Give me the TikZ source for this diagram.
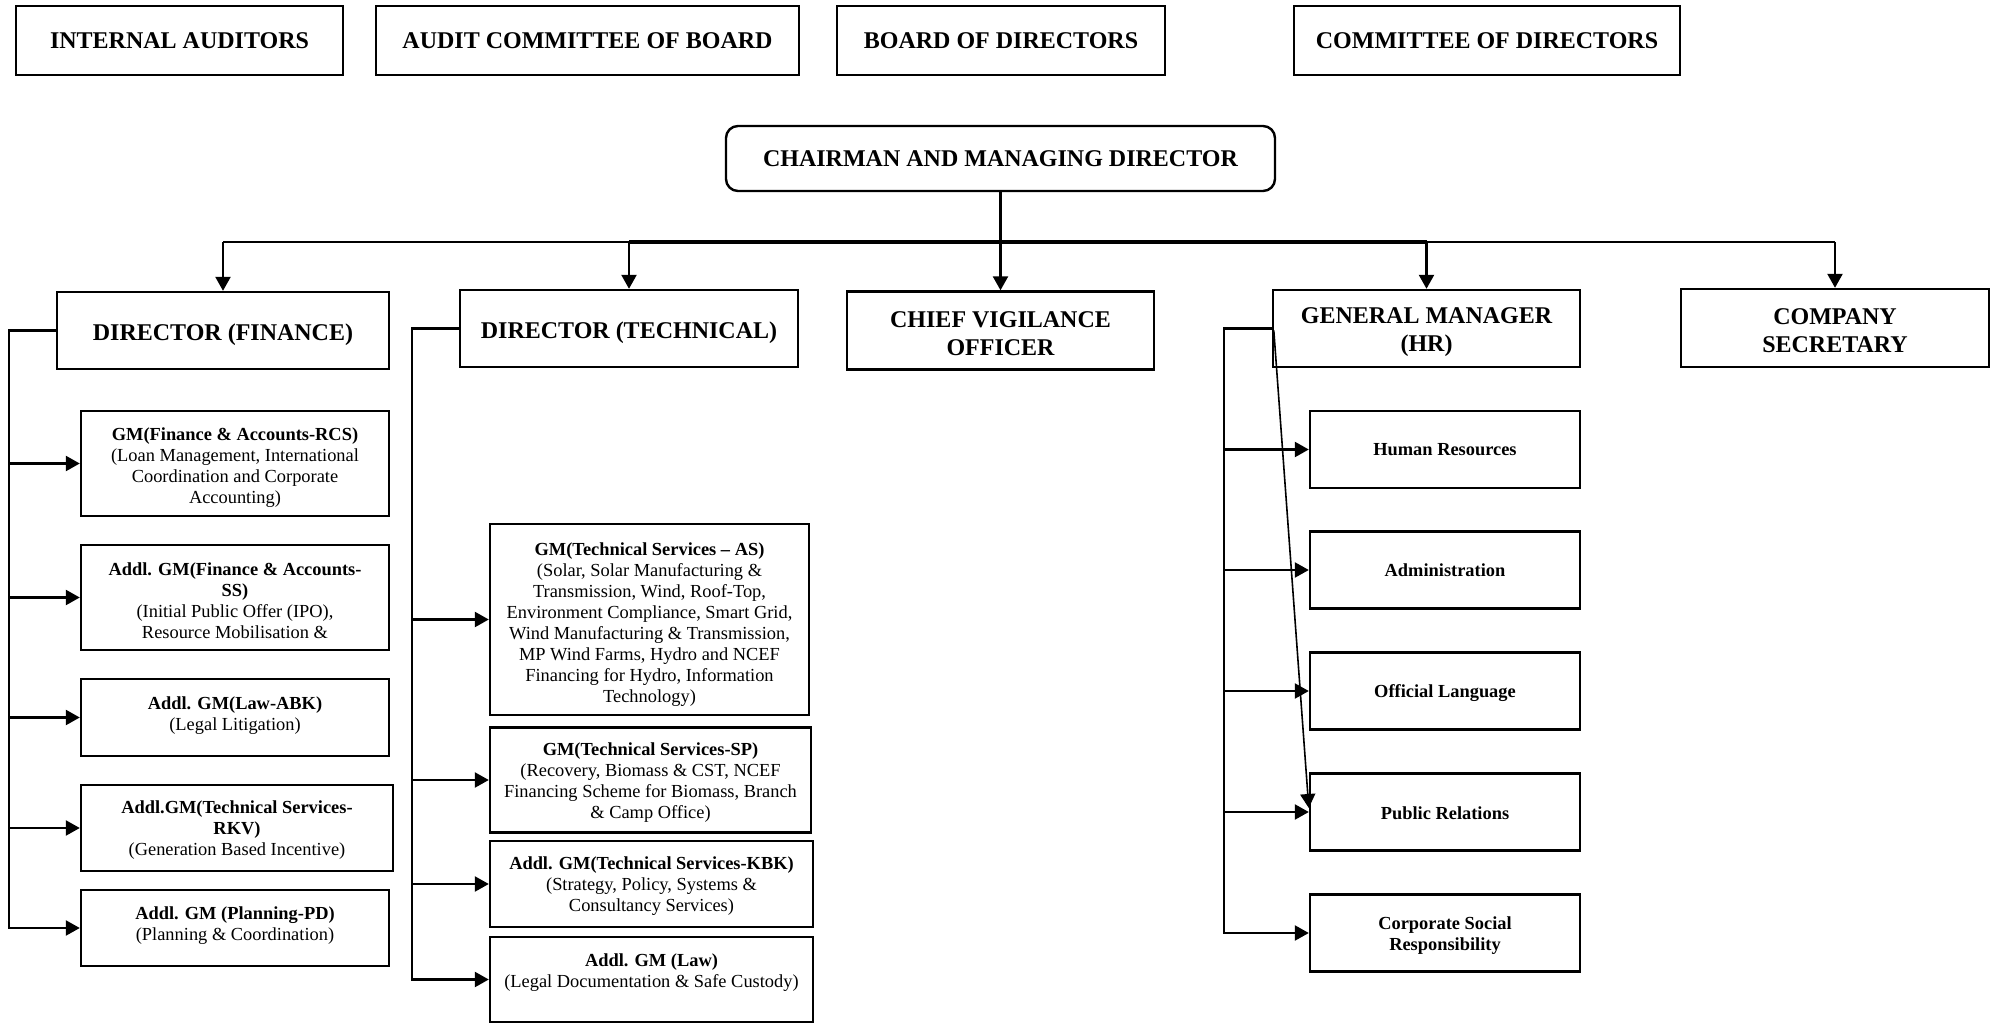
\documentclass[tikz,border=0pt]{standalone}
\usepackage{fontspec}
\setmainfont{Liberation Serif}
\usetikzlibrary{arrows.meta}
\newcommand\tdn[1]{\raisebox{#1pt}{\vphantom{(}}}
\newcommand\tup[1]{\raisebox{-#1pt}{\vphantom{(}}}
\begin{document}
\begin{tikzpicture}[x=0.5pt,y=-0.5pt,
  box/.style={draw, line width=1.2pt, inner sep=0pt, align=center},
  big/.style={box, font=\fontsize{12}{13.9}\selectfont\bfseries},
  small/.style={box, font=\fontsize{9.2}{10.5}\selectfont},
  hrs/.style={box, font=\fontsize{9.2}{10.5}\selectfont\bfseries, minimum width=135pt, minimum height=38.5pt},
  fin/.style={small, minimum width=154pt},
  conn/.style={line width=1.2pt},
  arr/.style={conn, -{Triangle[length=7pt,width=7.5pt]}},
  diag/.style={line width=0.8pt, -{Triangle[length=7pt,width=7.5pt]}},
]
\useasboundingbox (0,0) rectangle (1993,1027);

% top row
\node[big, minimum width=163.5pt, minimum height=34.5pt] (ia) at (179.5,40.5) {INTERNAL AUDITORS};
\node[big, minimum width=211.5pt, minimum height=34.5pt] (ac) at (587.5,40.5) {AUDIT COMMITTEE OF BOARD};
\node[big, minimum width=164pt, minimum height=34.5pt] (bd) at (1001,40.5) {BOARD OF DIRECTORS};
\node[big, minimum width=193pt, minimum height=34.5pt] (cd) at (1487,40.5) {COMMITTEE OF DIRECTORS};

% CMD
\node[big, rounded corners=6pt, minimum width=274.5pt, minimum height=32.5pt] (cmd) at (1000.5,158.5) {CHAIRMAN AND MANAGING DIRECTOR};

% directors
\node[big, minimum width=166pt, minimum height=38.5pt] (df) at (223,330.5) {\tdn{4.5}DIRECTOR (FINANCE)};
\node[big, minimum width=169pt, minimum height=38.5pt] (dt) at (629,328.5) {\tdn{4}DIRECTOR (TECHNICAL)};
\node[big, minimum width=153.5pt, minimum height=39pt] (cvo) at (1000.5,330.5) {\tdn{2.6}CHIEF VIGILANCE\\OFFICER};
\node[big, minimum width=153.5pt, minimum height=38.5pt] (hr) at (1426.5,328.5) {\tdn{3.6}GENERAL MANAGER\\(HR)};
\node[big, minimum width=154pt, minimum height=39pt] (cs) at (1835,328) {\tdn{2.2}COMPANY\\SECRETARY};

% bus
\coordinate (bus) at (0,242);
\draw[arr] (cmd.south) -- (cvo.north);
\draw[conn] (df.north |- bus) -- (cs.north |- bus);
\draw[line width=1.8pt] (dt.north |- bus) -- (hr.north |- bus);
\draw[arr] (df.north |- bus) -- (df.north);
\draw[arr] (dt.north |- bus) -- (dt.north);
\draw[arr] (hr.north |- bus) -- (hr.north);
\draw[arr] (cs.north |- bus) -- (cs.north);

% finance subordinates
\node[fin, minimum height=52.5pt] (f1) at (235,463.5) {\tdn{3.7}\textbf{GM(Finance \& Accounts-RCS)}\\(Loan Management, International\\Coordination and Corporate\\Accounting)};
\node[fin, minimum height=52.5pt] (f2) at (235,597.5) {\tdn{2.8}\textbf{Addl. GM(Finance \& Accounts-}\\\textbf{SS)}\\(Initial Public Offer (IPO),\\Resource Mobilisation \&};
\node[fin, minimum height=38.5pt] (f3) at (235,717.5) {\textbf{Addl. GM(Law-ABK)}\\(Legal Litigation)\tup{2}};
\node[small, minimum width=156pt, minimum height=43pt] (f4) at (237,828) {\tdn{2.5}\textbf{Addl.GM(Technical Services-}\\\textbf{RKV)}\\(Generation Based Incentive)};
\node[fin, minimum height=38pt] (f5) at (235,928) {\textbf{Addl. GM (Planning-PD)}\\(Planning \& Coordination)\tup{2.4}};

\coordinate (fx) at (9,0);
\draw[arr] (df.west) -| (fx |- f5.west) -- (f5.west);
\foreach \n in {f1,f2,f3,f4} \draw[arr] (fx |- \n.west) -- (\n.west);

% technical subordinates
\node[small, minimum width=159.5pt, minimum height=95.5pt] (t1) at (649.5,619.5) {\tdn{5}\textbf{GM(Technical Services -- AS)}\\(Solar, Solar Manufacturing \&\\Transmission, Wind, Roof-Top,\\Environment Compliance, Smart Grid,\\Wind Manufacturing \& Transmission,\\MP Wind Farms, Hydro and NCEF\\Financing for Hydro, Information\\Technology)};
\node[small, minimum width=160.5pt, minimum height=52.5pt] (t2) at (650.5,780) {\tdn{3}\textbf{GM(Technical Services-SP)}\\(Recovery, Biomass \& CST, NCEF\\Financing Scheme for Biomass, Branch\\\& Camp Office)};
\node[small, minimum width=161.5pt, minimum height=43pt] (t3) at (651.5,884) {\tdn{2.5}\textbf{Addl. GM(Technical Services-KBK)}\\(Strategy, Policy, Systems \&\\Consultancy Services)};
\node[small, minimum width=161.5pt, minimum height=42.5pt] (t4) at (651.5,979.5) {\tdn{1.7}\textbf{Addl. GM (Law)}\\(Legal Documentation \& Safe Custody)\\\mbox{}};

\coordinate (tx) at (412,0);
\draw[arr] (dt.west) -| (tx |- t4.west) -- (t4.west);
\foreach \n in {t1,t2,t3} \draw[arr] (tx |- \n.west) -- (\n.west);

% HR subordinates
\node[hrs] (h1) at (1445,449.5) {Human Resources};
\node[hrs] (h2) at (1445,570) {Administration};
\node[hrs] (h3) at (1445,691) {\tdn{2}Official Language};
\node[hrs] (h4) at (1445,812) {\tdn{1.7}Public Relations};
\node[hrs] (h5) at (1445,933) {\tdn{2.7}Corporate Social\\Responsibility};

\coordinate (hx) at (1224,0);
\draw[arr] (hr.west) -| (hx |- h5.west) -- (h5.west);
\foreach \n in {h1,h2,h3,h4} \draw[arr] (hx |- \n.west) -- (\n.west);
\draw[diag] ([xshift=1pt,yshift=-1pt]hr.west) -- ([yshift=2pt]h4.west);

\end{tikzpicture}
\end{document}
